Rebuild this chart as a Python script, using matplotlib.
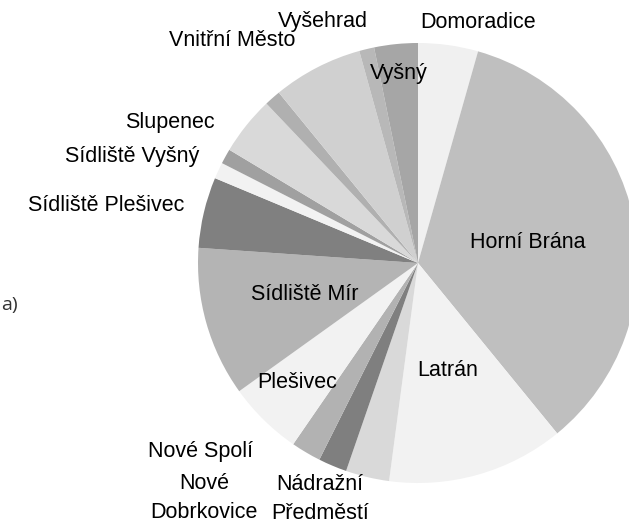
import matplotlib
matplotlib.use('Agg')
import matplotlib.pyplot as plt

# podíl jednotlivých částí (v %)
parts = ['Domoradice', 'Horní Brána', 'Latrán', 'Nádražní Předměstí', 'Nové Dobrkovice',
         'Nové Spolí', 'Plešivec', 'Sídliště Mír', 'Sídliště Plešivec', 'Sídliště Vyšný',
         'Slupenec', '', '', 'Vnitřní Město', 'Vyšehrad', 'Vyšný']
share = [4.4, 34.7, 13.0, 3.2, 2.1, 2.2, 5.5, 11.0, 5.2, 1.2, 1.1, 4.3, 1.2, 6.6, 1.1, 3.2]
colors = ['#f0f0f0', '#bfbfbf', '#f2f2f2', '#d9d9d9', '#7f7f7f', '#b2b2b2', '#f2f2f2', '#b4b4b4',
          '#808080', '#f2f2f2', '#a0a0a0', '#d9d9d9', '#b0b0b0', '#d0d0d0', '#b8b8b8', '#a6a6a6']

# popisky (text, střed v pixelech obrázku)
label_text = {
    'Domoradice': 'Domoradice', 'Horní Brána': 'Horní Brána', 'Latrán': 'Latrán',
    'Nádražní Předměstí': 'Nádražní\nPředměstí', 'Nové Dobrkovice': 'Nové\nDobrkovice',
    'Nové Spolí': 'Nové Spolí', 'Plešivec': 'Plešivec', 'Sídliště Mír': 'Sídliště Mír',
    'Sídliště Plešivec': 'Sídliště Plešivec', 'Sídliště Vyšný': 'Sídliště Vyšný',
    'Slupenec': 'Slupenec', 'Vnitřní Město': 'Vnitřní Město', 'Vyšehrad': 'Vyšehrad',
    'Vyšný': 'Vyšný',
}
label_pos = {
    'Domoradice': (478, 22), 'Horní Brána': (528, 243), 'Latrán': (448, 371),
    'Nádražní Předměstí': (320, 499), 'Nové Dobrkovice': (204, 498),
    'Nové Spolí': (200, 451), 'Plešivec': (297, 383), 'Sídliště Mír': (305, 294),
    'Sídliště Plešivec': (106, 205), 'Sídliště Vyšný': (132, 157),
    'Slupenec': (170, 123), 'Vnitřní Město': (232, 40), 'Vyšehrad': (323, 22),
    'Vyšný': (399, 73),
}

W, H = 629, 526
fig = plt.figure(figsize=(W / 100, H / 100), dpi=100)
plt.rcParams['font.family'] = ['Liberation Sans', 'DejaVu Sans']

# střed koláče (418, 263), poloměr 220 px
cx, cy, r = 418, 263, 220
ax = fig.add_axes([(cx - r) / W, (H - cy - r) / H, 2 * r / W, 2 * r / H])
ax.pie(share, colors=colors, startangle=90, counterclock=False,
       wedgeprops=dict(linewidth=0))
ax.set_xlim(-1, 1)
ax.set_ylim(-1, 1)
ax.set_aspect('equal')
ax.axis('off')

for name in parts:
    if name == '':
        continue
    x, y = label_pos[name]
    fig.text(x / W, 1 - y / H, label_text[name], ha='center', va='center',
             fontsize=15.5, color='black', linespacing=1.45)

# zbytek textu vlevo
fig.text(1 / W, 1 - 305 / H, 'a)', ha='left', va='center', fontsize=14,
         color='#333333', family=['Open Sans', 'DejaVu Sans'])

fig.savefig('out.png', dpi=100)
